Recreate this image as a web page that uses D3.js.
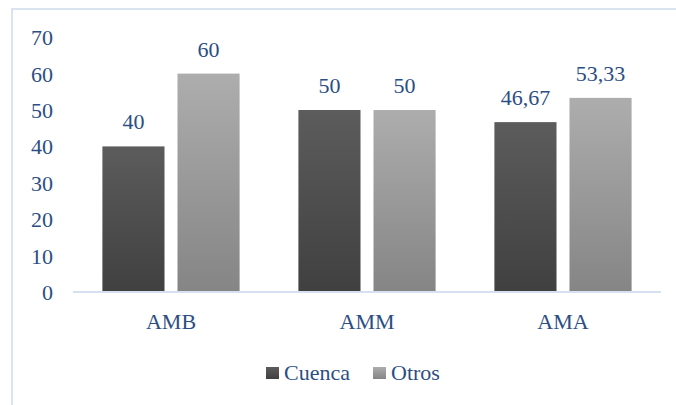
<!DOCTYPE html>
<html>
<head>
<meta charset="utf-8">
<script src="https://cdn.jsdelivr.net/npm/d3@7"></script>
<style>
  html, body { margin: 0; padding: 0; background: #fff; }
  svg { display: block; }
  svg text { font-family: "Times New Roman", Times, "Liberation Serif", "Noto Serif", "DejaVu Serif", serif; }
</style>
</head>
<body>
<div id="chart"></div>
<script>
// Chart data
const categories = ["AMB", "AMM", "AMA"];
const seriesNames = ["Cuenca", "Otros"];
const cuenca = [40, 50, 46.67];
const otros = [60, 50, 53.33];
const valueLabels = [["40", "60"], ["50", "50"], ["46,67", "53,33"]];
const yTicks = [0, 10, 20, 30, 40, 50, 60, 70];

const W = 676, H = 405;
const textColor = "#2B4E84";
const fontSize = 22;

const svg = d3.select("#chart").append("svg")
  .attr("width", W).attr("height", H);

// Vertical gradients for the two series
const defs = svg.append("defs");
const grads = [
  { id: "gCuenca", top: "#5c5c5c", bottom: "#404040" },
  { id: "gOtros", top: "#adadad", bottom: "#858585" }
];
grads.forEach(g => {
  const lg = defs.append("linearGradient").attr("id", g.id)
    .attr("x1", 0).attr("y1", 0).attr("x2", 0).attr("y2", 1);
  lg.append("stop").attr("offset", "0%").attr("stop-color", g.top);
  lg.append("stop").attr("offset", "100%").attr("stop-color", g.bottom);
});

// Chart frame (extends past the right and bottom edges)
svg.append("rect")
  .attr("x", 12).attr("y", 9).attr("width", W + 20).attr("height", H + 20)
  .attr("fill", "none").attr("stroke", "#dae4f1").attr("stroke-width", 2);

const x0 = d3.scaleBand().domain(categories).range([73, 661])
  .paddingInner(0.3).paddingOuter(0.15);
const x1 = d3.scaleBand().domain(seriesNames).range([0, x0.bandwidth()])
  .paddingInner(0.173);
const y = d3.scaleLinear().domain([0, 70]).range([292, 37.2]);

const rows = categories.map((c, i) => ({
  cat: c,
  values: [cuenca[i], otros[i]],
  labels: valueLabels[i]
}));

// Y axis labels (no axis line)
const yAxis = d3.axisLeft(y).tickValues(yTicks).tickSize(0).tickPadding(0)
  .tickFormat(d3.format("d"));
const yg = svg.append("g").attr("transform", "translate(53,0)").call(yAxis);
yg.attr("font-family", null).attr("font-size", null);
yg.select(".domain").remove();
yg.selectAll("text")
  .style("font-size", fontSize + "px")
  .attr("fill", textColor).attr("dy", "0.34em");

// Bars
const groups = svg.append("g").selectAll("g").data(rows).join("g")
  .attr("transform", d => `translate(${x0(d.cat)},0)`);

groups.selectAll("rect").data(d => d.values.map((v, j) => ({ v, s: seriesNames[j], j })))
  .join("rect")
  .attr("x", d => x1(d.s))
  .attr("y", d => y(d.v))
  .attr("width", x1.bandwidth())
  .attr("height", d => y(0) - y(d.v))
  .attr("fill", d => `url(#${grads[d.j].id})`);

// Value labels
groups.selectAll("text.val").data(d => d.values.map((v, j) => ({ v, s: seriesNames[j], t: d.labels[j] })))
  .join("text").attr("class", "val")
  .attr("x", d => x1(d.s) + x1.bandwidth() / 2)
  .attr("y", d => y(d.v) - 17)
  .attr("text-anchor", "middle")
  .style("font-size", fontSize + "px")
  .attr("fill", textColor)
  .text(d => d.t);

// X axis baseline
const xAxis = d3.axisBottom(x0).tickSize(0).tickPadding(0);
const xg = svg.append("g").attr("transform", `translate(0,${y(0)})`).call(xAxis);
xg.attr("font-family", null).attr("font-size", null);
xg.select(".domain").attr("stroke", "#d6e0ef").attr("stroke-width", 2)
  .attr("d", `M73,0H661`);
xg.selectAll("text")
  .style("font-size", fontSize + "px")
  .attr("fill", textColor).attr("dy", "0").attr("y", 37);

// Legend
const legend = svg.append("g");
const legendItems = [
  { name: seriesNames[0], x: 266 },
  { name: seriesNames[1], x: 373 }
];
legendItems.forEach((item, j) => {
  legend.append("rect")
    .attr("x", item.x).attr("y", 367).attr("width", 13).attr("height", 12)
    .attr("fill", `url(#${grads[j].id})`);
  legend.append("text")
    .attr("x", item.x + 18).attr("y", 380)
    .style("font-size", fontSize + "px")
    .attr("fill", textColor)
    .text(item.name);
});
</script>
</body>
</html>
